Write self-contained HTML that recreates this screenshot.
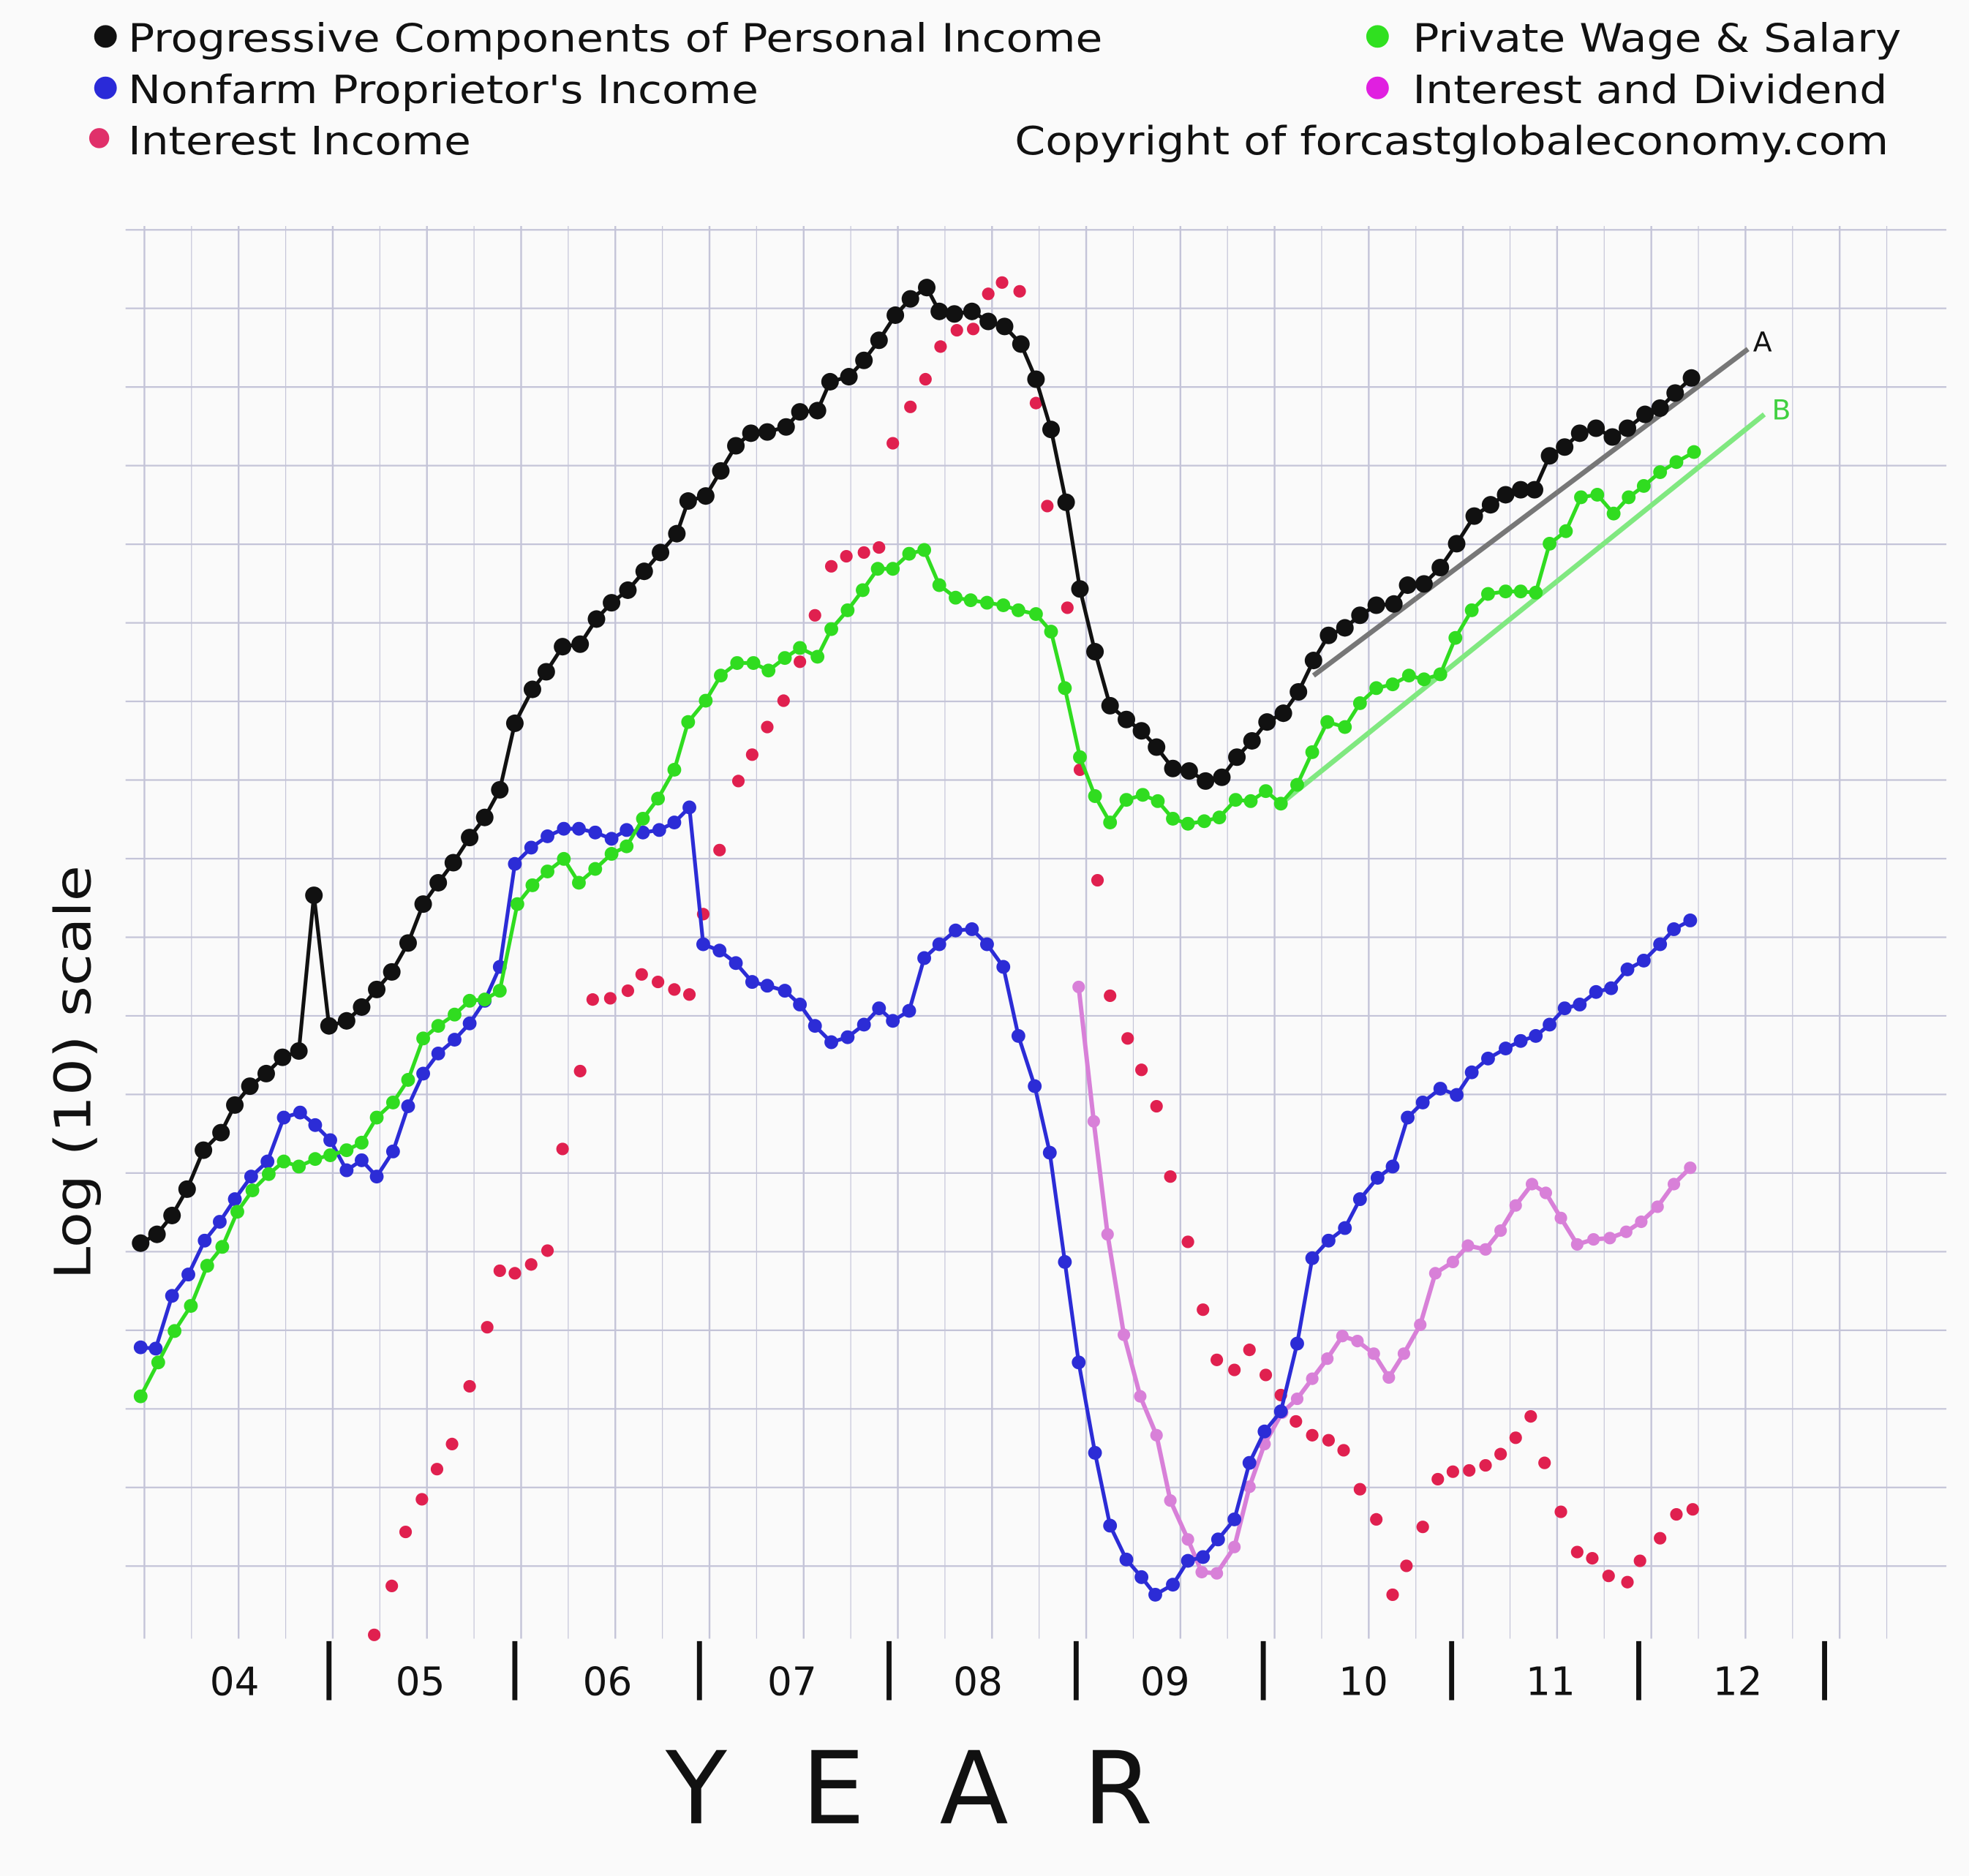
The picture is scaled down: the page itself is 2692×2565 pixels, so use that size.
<!DOCTYPE html>
<html><head><meta charset="utf-8"><style>
html,body{margin:0;padding:0;background:#fafafa;}
svg{display:block;}
text{font-family:"DejaVu Sans","Liberation Sans",sans-serif;}
</style></head><body>
<svg id="s" width="2692" height="2565" viewBox="0 0 1568 1494" xmlns="http://www.w3.org/2000/svg">
<rect width="1568" height="1494" fill="#fafafa"/>
<g id="grid" stroke="#c4c4d8" stroke-width="1.3"></g>
<g id="ticks" stroke="#111" stroke-width="4"></g>
<g font-size="31" fill="#111">
<circle cx="84" cy="29" r="9" fill="#111"/><text x="102" y="41" textLength="776" lengthAdjust="spacingAndGlyphs">Progressive Components of Personal Income</text>
<circle cx="84" cy="70" r="9" fill="#2a2ad8"/><text x="102" y="82" textLength="502" lengthAdjust="spacingAndGlyphs">Nonfarm Proprietor's Income</text>
<circle cx="79" cy="110" r="8" fill="#e0306a"/><text x="102" y="123" textLength="273" lengthAdjust="spacingAndGlyphs">Interest Income</text>
<circle cx="1097" cy="29" r="9" fill="#30e020"/><text x="1125" y="41" textLength="389" lengthAdjust="spacingAndGlyphs">Private Wage &amp; Salary</text>
<circle cx="1097" cy="70" r="9" fill="#e020e0"/><text x="1125" y="82" textLength="378" lengthAdjust="spacingAndGlyphs">Interest and Dividend</text>
<text x="808" y="123" textLength="696" lengthAdjust="spacingAndGlyphs">Copyright of forcastglobaleconomy.com</text>
</g>
<g font-size="31" fill="#111">
<text x="167" y="1350">04</text><text x="315" y="1350">05</text><text x="464" y="1350">06</text><text x="611" y="1350">07</text><text x="759" y="1350">08</text><text x="908" y="1350">09</text><text x="1066" y="1350">10</text><text x="1215" y="1350">11</text><text x="1364" y="1350">12</text>
</g>
<text x="530" y="1452" font-size="80" fill="#111" textLength="388" lengthAdjust="spacing">YEAR</text>
<text transform="translate(72,854) rotate(-90)" font-size="40" fill="#111" text-anchor="middle" textLength="330" lengthAdjust="spacingAndGlyphs">Log (10) scale</text>
<line x1="1046" y1="538" x2="1392" y2="278" stroke="#777" stroke-width="4"/>
<text x="1396" y="280" font-size="22" fill="#111">A</text>
<line x1="1020" y1="640" x2="1405" y2="330" stroke="#80e880" stroke-width="4"/>
<text x="1411" y="334" font-size="22" fill="#40d040">B</text>
<g id="data"></g>
</svg>
<script>
var NS="http://www.w3.org/2000/svg";
function el(p,t,a){var e=document.createElementNS(NS,t);for(var k in a)e.setAttribute(k,a[k]);p.appendChild(e);return e;}
var g=document.getElementById('grid');
for(var x=115;x<1540;x+=37.5){el(g,'line',{x1:x,y1:180,x2:x,y2:1305,'stroke-width':((Math.round((x-115)/37.5))%2==0)?1.4:0.7});}
for(var y=183;y<1260;y+=62.6){el(g,'line',{x1:100,y1:y,x2:1550,y2:y});}
var t=document.getElementById('ticks');
[262,410,557,708,857,1006,1156,1305,1453].forEach(function(x){el(t,'line',{x1:x,y1:1307,x2:x,y2:1354});});
function P(s){var a=s.trim().split(/[\s,]+/).map(Number),r=[];for(var i=0;i<a.length;i+=2)r.push([a[i],a[i+1]]);return r;}
var black=P("112 990 125 983 137 968 149 947 162 916 176 902 187 880 199 865 212 855 225 842 238 837 250 713 262 817 276 813 288 802 300 788 312 774 325 751 337 720 349 703 361 687 374 667 386 651 398 629 410 576 424 549 435 535 448 515 462 513 475 493 487 480 500 470 513 455 526 440 539 425 548 399 562 395 574 375 586 355 598 345 611 344 626 340 637 328 651 327 661 304 676 300 688 287 700 271 713 251 725 238 738 229 748 248 760 250 774 248 787 256 800 260 813 274 825 302 837 342 849 400 860 469 872 519 884 562 897 573 909 582 921 595 934 612 947 614 960 622 973 619 985 603 997 590 1009 575 1022 568 1034 551 1046 526 1058 506 1071 500 1083 490 1096 482 1110 481 1121 466 1134 465 1147 452 1160 433 1174 411 1187 402 1199 394 1211 390 1222 390 1234 363 1246 356 1258 345 1271 341 1284 348 1296 341 1310 330 1322 325 1334 313 1347 301");
var green=P("112 1112 126 1085 139 1060 152 1040 165 1008 177 993 189 965 201 948 214 935 226 925 238 929 251 923 263 920 276 916 288 910 300 890 313 878 325 860 337 827 349 817 362 808 374 797 386 796 398 789 412 720 424 705 436 694 449 684 461 703 474 692 487 680 499 674 512 652 524 636 537 613 548 575 562 558 574 538 587 528 600 528 612 534 625 524 637 516 651 523 662 501 675 486 687 470 699 453 711 453 724 441 736 438 748 466 761 476 773 478 786 480 799 482 811 486 825 489 837 503 848 548 860 603 872 634 884 655 897 637 910 633 922 638 934 652 946 656 959 654 971 651 984 637 996 638 1008 630 1020 640 1033 625 1045 599 1057 575 1071 579 1083 560 1096 548 1109 545 1122 538 1134 541 1147 537 1159 508 1172 486 1185 473 1199 471 1211 471 1223 472 1234 433 1247 423 1259 396 1272 394 1285 409 1297 396 1309 387 1322 376 1335 368 1349 360");
var blue=P("112 1073 124 1074 137 1032 150 1015 163 988 175 973 187 955 200 937 213 925 226 890 239 886 251 896 263 908 276 932 288 924 300 937 313 917 325 881 337 855 349 839 362 828 374 815 386 797 398 770 410 688 423 675 436 666 449 660 461 660 474 663 487 668 499 661 512 663 525 661 537 655 549 643 560 752 573 757 586 767 599 782 611 785 625 789 637 800 649 817 662 830 675 826 688 816 700 803 711 813 724 805 736 763 748 752 761 741 774 740 786 752 799 770 811 825 824 865 836 918 848 1005 859 1085 872 1157 884 1215 897 1242 909 1256 920 1270 934 1262 946 1243 958 1240 970 1226 983 1210 995 1165 1007 1140 1020 1124 1033 1070 1045 1002 1058 988 1071 978 1083 955 1097 938 1109 929 1121 890 1133 878 1147 867 1160 872 1172 854 1185 843 1199 835 1211 829 1223 825 1234 816 1246 803 1258 800 1271 790 1283 787 1296 772 1309 765 1322 752 1333 740 1346 733");
var red=P("298 1302 312 1263 323 1220 336 1194 348 1170 360 1150 374 1104 388 1057 398 1012 410 1014 423 1007 436 996 448 915 462 853 472 796 486 795 500 789 511 776 524 782 537 788 549 792 560 728 573 677 588 622 599 601 611 579 624 558 637 527 649 490 662 451 674 443 688 440 700 436 711 353 725 324 737 302 749 276 762 263 775 262 787 234 798 225 812 232 825 321 834 403 850 484 860 613 874 701 884 793 898 827 909 852 921 881 932 937 946 989 958 1043 969 1083 983 1091 995 1075 1008 1095 1020 1111 1032 1132 1045 1143 1058 1147 1070 1155 1083 1186 1096 1210 1109 1270 1120 1247 1133 1216 1145 1178 1157 1172 1170 1171 1183 1167 1195 1158 1207 1145 1219 1128 1230 1165 1243 1204 1256 1236 1268 1241 1281 1255 1296 1260 1306 1243 1322 1225 1335 1206 1348 1202");
var pink=P("859 786 871 893 882 983 895 1063 908 1112 921 1143 932 1195 946 1226 957 1252 969 1253 983 1232 995 1184 1007 1150 1021 1125 1033 1114 1045 1098 1057 1082 1069 1064 1081 1068 1094 1078 1106 1097 1118 1078 1131 1055 1143 1014 1157 1005 1169 992 1183 995 1195 980 1207 960 1220 943 1231 950 1243 970 1256 991 1269 987 1282 986 1295 981 1307 973 1320 961 1333 943 1346 930");
var d=document.getElementById('data');
function series(pts,col,w,r,line,dotcol){
 if(line)el(d,'polyline',{points:pts.map(function(p){return p.join(',')}).join(' '),fill:'none',stroke:col,'stroke-width':w,'stroke-linejoin':'round'});
 pts.forEach(function(p,i){el(d,'circle',{cx:p[0],cy:p[1],r:r,fill:(dotcol?dotcol(i):col)});});
}
series(red,'#e0204f',0,5,false);
series(pink,'#d880d8',3.5,5,true,function(i){return i>=42?'#ee30e0':'#d880d8';});
series(blue,'#2c2cd6',3,5.5,true);
series(green,'#30dc20',3,5.5,true);
series(black,'#111',3,7,true);
</script>
</body></html>
